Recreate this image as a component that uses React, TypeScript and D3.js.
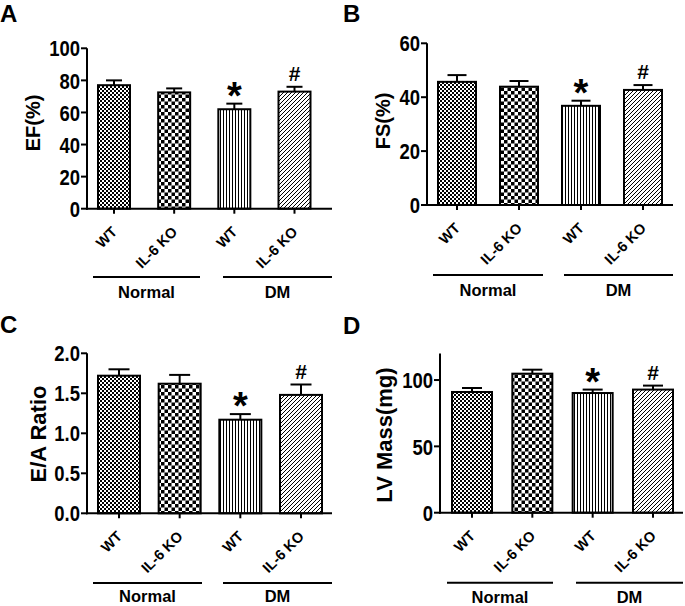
import React from "react";
import * as d3 from "d3";

// ---------- data ----------
const groupNames = ["Normal", "DM"];
const categories = ["WT", "IL-6 KO", "WT", "IL-6 KO"];
const marks = ["", "", "*", "#"];

const efMean = [77, 72.5, 62, 73];
const efErr = [3, 2.5, 3.5, 3];
const fsMean = [45.7, 43.9, 36.8, 42.7];
const fsErr = [2.5, 2.1, 1.9, 1.8];
const eaMean = [1.72, 1.62, 1.17, 1.48];
const eaErr = [0.08, 0.11, 0.07, 0.13];
const lvMean = [91, 104.8, 90.2, 92.8];
const lvErr = [3, 3, 2.6, 3];

const efTicks = [0, 20, 40, 60, 80, 100];
const fsTicks = [0, 20, 40, 60];
const eaTicks = [0, 0.5, 1.0, 1.5, 2.0];
const lvTicks = [0, 50, 100];

const patterns = ["pFine", "pCheck", "pVert", "pDiag"];
const FONT = "'Liberation Sans', Arial, Helvetica, sans-serif";

type Panel = {
  letter: string; lx: number; ly: number;
  axisX: number; axisEnd: number; y0: number; yTop: number; max: number;
  ticks: number[]; fmt: (v: number) => string;
  barL: number; barR: number; barW: number;
  title: string; tx: number; ty: number; tsize: number;
  gy: number; normal: [number, number]; dm: [number, number]; labelY: number;
  mean: number[]; err: number[];
};

const panels: Panel[] = [
  {
    letter: "A", lx: 0, ly: 22, axisX: 87, axisEnd: 332, y0: 208.7, yTop: 48.3, max: 100,
    ticks: efTicks, fmt: (v) => String(v), barL: 98, barR: 310.5, barW: 32,
    title: "EF(%)", tx: 40, ty: 123, tsize: 20, gy: 277, normal: [93, 200], dm: [223, 332], labelY: 298,
    mean: efMean, err: efErr,
  },
  {
    letter: "B", lx: 343, ly: 22, axisX: 427, axisEnd: 673, y0: 205, yTop: 43.3, max: 60,
    ticks: fsTicks, fmt: (v) => String(v), barL: 438, barR: 662, barW: 38,
    title: "FS(%)", tx: 390, ty: 121, tsize: 20, gy: 275, normal: [433, 543], dm: [564, 673], labelY: 296,
    mean: fsMean, err: fsErr,
  },
  {
    letter: "C", lx: 0, ly: 333, axisX: 87, axisEnd: 332, y0: 513.3, yTop: 353.3, max: 2,
    ticks: eaTicks, fmt: (v) => v.toFixed(1), barL: 98, barR: 322, barW: 42,
    title: "E/A Ratio", tx: 46, ty: 434, tsize: 22, gy: 583, normal: [93, 202], dm: [223, 332], labelY: 602,
    mean: eaMean, err: eaErr,
  },
  {
    letter: "D", lx: 343, ly: 334, axisX: 440, axisEnd: 683, y0: 512.7, yTop: 353.5, max: 120,
    ticks: lvTicks, fmt: (v) => String(v), barL: 452, barR: 673, barW: 40,
    title: "LV Mass(mg)", tx: 392, ty: 435, tsize: 22, gy: 582.7, normal: [447, 553], dm: [576, 683], labelY: 603,
    mean: lvMean, err: lvErr,
  },
];

function PanelView({ p }: { p: Panel }) {
  const n = categories.length;
  const span = p.barR - p.barL;
  const pad = (span - p.barW * n) / (span - p.barW);
  const x = d3.scaleBand<number>().domain(d3.range(n)).range([p.barL, p.barR]).paddingInner(pad).paddingOuter(0);
  const y = d3.scaleLinear().domain([0, p.max]).range([p.y0, p.yTop]);
  const bw = x.bandwidth();
  const cap = bw * 0.5;
  return (
    <g>
      <text x={p.lx} y={p.ly} fontSize={24} fontWeight="bold" fontFamily={FONT}>{p.letter}</text>
      {/* y title */}
      <text
        transform={`translate(${p.tx},${p.ty}) rotate(-90)`}
        textAnchor="middle" fontSize={p.tsize} fontWeight="bold" fontFamily={FONT}
      >{p.title}</text>
      {/* bars */}
      {p.mean.map((m, i) => {
        const x0 = x(i)!;
        const cx = x0 + bw / 2;
        const top = y(m);
        const et = y(m + p.err[i]);
        return (
          <g key={i}>
            <line x1={cx} x2={cx} y1={top} y2={et} stroke="#000" strokeWidth={2} />
            <line x1={cx - cap / 2} x2={cx + cap / 2} y1={et} y2={et} stroke="#000" strokeWidth={2} />
            <rect x={x0} y={top} width={bw} height={p.y0 - top} fill={`url(#${patterns[i]})`} stroke="#000" strokeWidth={2} />
            {marks[i] === "*" && (
              <text x={cx} y={et + 5} textAnchor="middle" fontSize={38} fontWeight="bold" fontFamily={FONT}>*</text>
            )}
            {marks[i] === "#" && (
              <text x={cx} y={et - 6} textAnchor="middle" fontSize={21} fontWeight="bold" fontFamily={FONT}>#</text>
            )}
            <line x1={cx} x2={cx} y1={p.y0} y2={p.y0 + 5} stroke="#000" strokeWidth={2} />
            <text
              transform={`translate(${cx + 4},${p.y0 + 24}) rotate(-45)`}
              textAnchor="end" fontSize={14.5} fontWeight="bold" fontFamily={FONT}
            >{categories[i]}</text>
          </g>
        );
      })}
      {/* axes */}
      <line x1={p.axisX} x2={p.axisX} y1={y(p.max)} y2={p.y0 + 1} stroke="#000" strokeWidth={2} />
      <line x1={p.axisX - 1} x2={p.axisEnd} y1={p.y0} y2={p.y0} stroke="#000" strokeWidth={2} />
      {p.ticks.map((t) => (
        <g key={t}>
          <line x1={p.axisX - 6} x2={p.axisX} y1={y(t)} y2={y(t)} stroke="#000" strokeWidth={2} />
          <text
            transform={`translate(${p.axisX - 7},${y(t)}) scale(0.88,1.08)`}
            textAnchor="end" dy="0.36em" fontSize={21} fontWeight="bold" fontFamily={FONT}
          >{p.fmt(t)}</text>
        </g>
      ))}
      {/* group lines */}
      {[p.normal, p.dm].map((g, gi) => (
        <g key={gi}>
          <line x1={g[0]} x2={g[1]} y1={p.gy} y2={p.gy} stroke="#000" strokeWidth={2} />
          <text x={(g[0] + g[1]) / 2} y={p.labelY} textAnchor="middle" fontSize={16.5} fontWeight="bold" fontFamily={FONT}>
            {groupNames[gi]}
          </text>
        </g>
      ))}
    </g>
  );
}

export default function App() {
  return (
    <svg width={685} height={606} style={{ position: "absolute", left: 0, top: 0, background: "#fff" }}>
      <defs>
        <pattern id="pFine" patternUnits="userSpaceOnUse" width={4} height={4}>
          <rect width={4} height={4} fill="#fff" />
          <rect width={2} height={2} fill="#000" />
          <rect x={2} y={2} width={2} height={2} fill="#000" />
        </pattern>
        <pattern id="pCheck" patternUnits="userSpaceOnUse" width={7} height={7}>
          <rect width={7} height={7} fill="#fff" />
          <rect width={3.5} height={3.5} fill="#000" />
          <rect x={3.5} y={3.5} width={3.5} height={3.5} fill="#000" />
        </pattern>
        <pattern id="pVert" patternUnits="userSpaceOnUse" width={3} height={3}>
          <rect width={3} height={3} fill="#fff" />
          <rect x={1} width={1} height={3} fill="#000" />
        </pattern>
        <pattern id="pDiag" patternUnits="userSpaceOnUse" width={4} height={4}>
          <rect width={4} height={4} fill="#fff" />
          <path d="M-1,1 l2,-2 M0,4 l4,-4 M3,5 l2,-2" stroke="#000" strokeWidth={1} />
        </pattern>
      </defs>
      <rect width={685} height={606} fill="#fff" />
      {panels.map((p) => (
        <PanelView key={p.letter} p={p} />
      ))}
    </svg>
  );
}
